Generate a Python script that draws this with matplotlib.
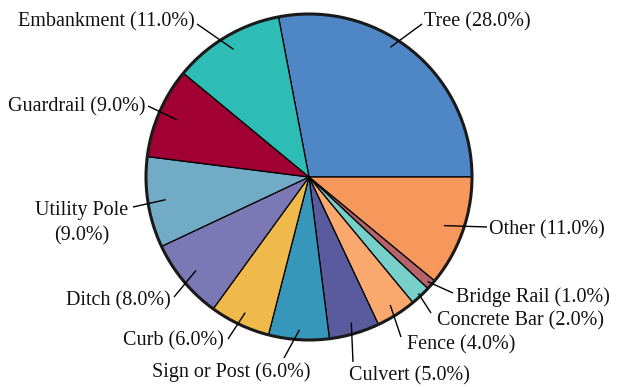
import numpy as np
import matplotlib
matplotlib.use("Agg")
import matplotlib.pyplot as plt

# ---- data ----
categories = ["Tree", "Other", "Bridge Rail", "Concrete Bar", "Fence", "Culvert",
              "Sign or Post", "Curb", "Ditch", "Utility Pole", "Guardrail", "Embankment"]
shares = [28.0, 11.0, 1.0, 2.0, 4.0, 5.0, 6.0, 6.0, 8.0, 9.0, 9.0, 11.0]

# ---- style ----
colors = ["#4e86c6", "#f6975b", "#b5626a", "#77cfc9", "#f9a86e", "#5a5b9f",
          "#3797bb", "#f0b94b", "#7a79b5", "#71abc6", "#a00033", "#2dbdb4"]

W, H = 619, 387
CX, CY, R = 309, 177, 163  # pixel center/radius


def d(px, py):
    return (px - CX) / R, (CY - py) / R


# leader start: (angle offset deg, radius fraction); leader end (px); text anchor (px), ha
leader_start = [(7.5, 0.94), (0, 0.88), (0, 0.97), (0, 0.98), (0, 0.93), (0, 0.93),
                (0, 0.94), (0, 0.92), (0, 0.90), (0, 0.89), (0, 0.88), (0, 0.91)]
leader_end = [(422, 24), (487, 227), (453, 293), (431, 313), (401, 337), (353, 362),
              (284, 358), (228, 339), (174, 297), (133, 207), (148, 106), (197, 24)]
text_pos = [(424, 22, "left"), (489, 230, "left"),
            (456, 297, "left"), (437, 321, "left"),
            (407, 345, "left"), (349, 376, "left"),
            (310, 372, "right"), (224, 341, "right"),
            (171, 301, "right"), (128, 223, "right"),
            (146, 107, "right"), (195, 22, "right")]

plt.rcParams["font.family"] = ["Liberation Serif", "DejaVu Serif"]

fig = plt.figure(figsize=(W / 100, H / 100), dpi=100)
ax = fig.add_axes([0, 0, 1, 1])
wedges, _ = ax.pie(shares, startangle=100.8, counterclock=False, colors=colors,
                   radius=1.0,
                   wedgeprops=dict(edgecolor="black", linewidth=0.9))
circle = plt.Circle((0, 0), 1.0, fill=False, edgecolor="#1a1a1a", linewidth=2.2, zorder=5)
ax.add_patch(circle)

for i, (w, name, val) in enumerate(zip(wedges, categories, shares)):
    mid = np.deg2rad((w.theta1 + w.theta2) / 2 + leader_start[i][0])
    rf = leader_start[i][1]
    x0, y0 = rf * np.cos(mid), rf * np.sin(mid)
    x1, y1 = d(*leader_end[i])
    ax.plot([x0, x1], [y0, y1], color="black", linewidth=1.0, zorder=6,
            solid_capstyle="butt")
    tx, ty, ha = text_pos[i]
    label = f"{name} ({val:.1f}%)"
    if name == "Utility Pole":
        label = f"{name}\n({val:.1f}%)"
    tx_d, ty_d = d(tx, ty)
    ax.text(tx_d, ty_d, label, ha=ha, va="center", fontsize=14.5, color="#111111",
            multialignment="center", linespacing=1.45, zorder=7)

ax.set_aspect("auto")
ax.set_xlim(-CX / R, (W - CX) / R)
ax.set_ylim((CY - H) / R, CY / R)
ax.axis("off")
fig.savefig("out.png", dpi=100)
